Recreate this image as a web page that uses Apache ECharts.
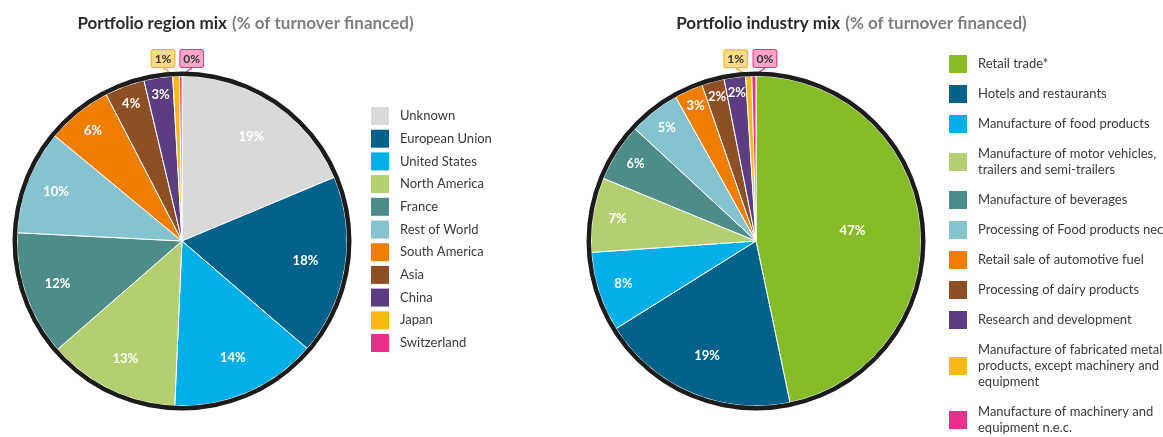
<!DOCTYPE html>
<html><head><meta charset="utf-8">
<script src="https://cdn.jsdelivr.net/npm/echarts@6/dist/echarts.min.js"></script>
<style>html,body{margin:0;padding:0;background:#fff}#c{width:1163px;height:437px}</style>
</head><body><div id="c"></div>
<script>
// ---- data ----
const regionNames = ['Unknown','European Union','United States','North America','France','Rest of World','South America','Asia','China','Japan','Switzerland'];
const regionValues = [18.7,17.6,14.4,12.9,12.2,10.2,6.4,3.9,2.8,0.65,0.25];
const industryNames = ['Retail trade*','Hotels and restaurants','Manufacture of food products','Manufacture of motor vehicles,\ntrailers and semi-trailers','Manufacture of beverages','Processing of Food products nec','Retail sale of automotive fuel','Processing of dairy products','Research and development','Manufacture of fabricated metal\nproducts, except machinery and\nequipment','Manufacture of machinery and\nequipment n.e.c.'];
const industryValues = [46.7,19.4,7.8,7.3,5.7,5.0,2.8,2.2,2.1,0.6,0.4];
const regionColors = ['#d9d9d9','#00628b','#00aee8','#b3cf6f','#4d8c88','#85c3d0','#ef7d00','#8d4f24','#5c3d82','#fdb813','#e8318a'];
const industryColors = ['#86bc27','#00628b','#00aee8','#b3cf6f','#4d8c88','#85c3d0','#ef7d00','#8d4f24','#5c3d82','#fdb813','#e8318a'];
const titles = ['Portfolio region mix','Portfolio industry mix'];
const subtitle = '(% of turnover financed)';

const FONT = "Lato, sans-serif";
const TFONT = "Lato, sans-serif";
const boxStyles = {
  '#fdb813': {bg:'#fdd98a', border:'#f5b400'},
  '#e8318a': {bg:'#f5a6c9', border:'#e8318a'}
};
const R = 165;

// label distance from centre depending on slice share (bigger slices -> nearer centre)
function labelRadius(f) {
  if (f > 0.3) return 97;
  return Math.min(150, Math.max(125, 153 - 175 * f));
}

function makeSeries(names, values, colors, center) {
  const total = values.reduce((a,b)=>a+b,0);
  const main = {
    type:'pie', center, radius:[0,R], startAngle:90, clockwise:true, silent:true,
    avoidLabelOverlap:false, label:{show:false}, labelLine:{show:false},
    itemStyle:{borderColor:'#fff', borderWidth:1},
    data: names.map((n,i)=>({name:n, value:values[i], itemStyle:{color:colors[i]}}))
  };
  const n = names.length;
  const overlay = {
    type:'pie', center, radius:[95,R], startAngle:90, clockwise:true, silent:true,
    avoidLabelOverlap:false,
    itemStyle:{color:'rgba(0,0,0,0)', borderWidth:0},
    label:{show:true, position:'inside', formatter:p=>Math.round(p.value)+'%', color:'#fff', fontSize:13, fontWeight:'bold', fontFamily:TFONT},
    labelLine:{show:false},
    labelLayout: function(params){
      const i = params.dataIndex;
      if (i === n-2 || i === n-1) {
        const p = params.labelLinePoints[0];
        const off = i === n-2 ? -13 : 11;
        return {x: p[0]+off, y: p[1]-9, align:'center', verticalAlign:'bottom'};
      }
      const lr = params.labelRect;
      const px = lr.x + lr.width/2 - center[0];
      const py = lr.y + lr.height/2 - center[1];
      const d = Math.sqrt(px*px + py*py) || 1;
      const k = labelRadius(values[i]/total) / d;
      return {x: center[0] + px*k, y: center[1] + py*k, align:'center', verticalAlign:'middle'};
    },
    data: names.map((nm,i)=>{
      const d = {name:nm, value:values[i]};
      if (i >= n-2) {
        const bs = boxStyles[colors[i]];
        d.label = {position:'outside', color:'#333', fontSize:12, fontWeight:'bold', backgroundColor:bs.bg, borderColor:bs.border, borderWidth:1, borderRadius:2, padding:[3,3,2,3]};
        d.labelLine = {show:true, length:6, length2:0, lineStyle:{color:colors[i], width:1.5}};
      }
      return d;
    })
  };
  const ring = {
    type:'pie', center, radius:[R,R+4.5], silent:true, label:{show:false}, labelLine:{show:false},
    itemStyle:{borderWidth:0},
    data:[{name:'ring', value:1, itemStyle:{color:'#1c1c1c'}}]
  };
  return [main, ring, overlay];
}

const titleRich = {
  a:{fontFamily:TFONT, fontSize:17, fontWeight:'bold', color:'#2b2b2b'},
  b:{fontFamily:TFONT, fontSize:17, fontWeight:'bold', color:'#7f7f7f'}
};

const chart = echarts.init(document.getElementById('c'));
chart.setOption({
  animation:false,
  title:[
    {text:'{a|'+titles[0]+'} {b|'+subtitle+'}', left:245.5, top:15, padding:0, textAlign:'center', textStyle:{rich:titleRich}},
    {text:'{a|'+titles[1]+'} {b|'+subtitle+'}', left:851.5, top:15, padding:0, textAlign:'center', textStyle:{rich:titleRich}}
  ],
  legend:[
    {orient:'vertical', left:371, top:107, height:600, padding:0, itemWidth:18, itemHeight:18, itemGap:4.7, icon:'rect', selectedMode:false,
     itemStyle:{borderWidth:0},
     data:regionNames, textStyle:{fontFamily:FONT, fontSize:13, lineHeight:16, color:'#3a3a3a', padding:[0,0,0,6]}},
    {orient:'vertical', left:949, top:55, height:600, padding:0, itemWidth:18, itemHeight:18, itemGap:12, icon:'rect', selectedMode:false,
     itemStyle:{borderWidth:0},
     data:industryNames, textStyle:{fontFamily:FONT, fontSize:13, lineHeight:16, color:'#3a3a3a', padding:[1,0,1,6]}}
  ],
  series:[
    ...makeSeries(regionNames, regionValues, regionColors, [182,241]),
    ...makeSeries(industryNames, industryValues, industryColors, [756,241])
  ]
});
</script></body></html>
